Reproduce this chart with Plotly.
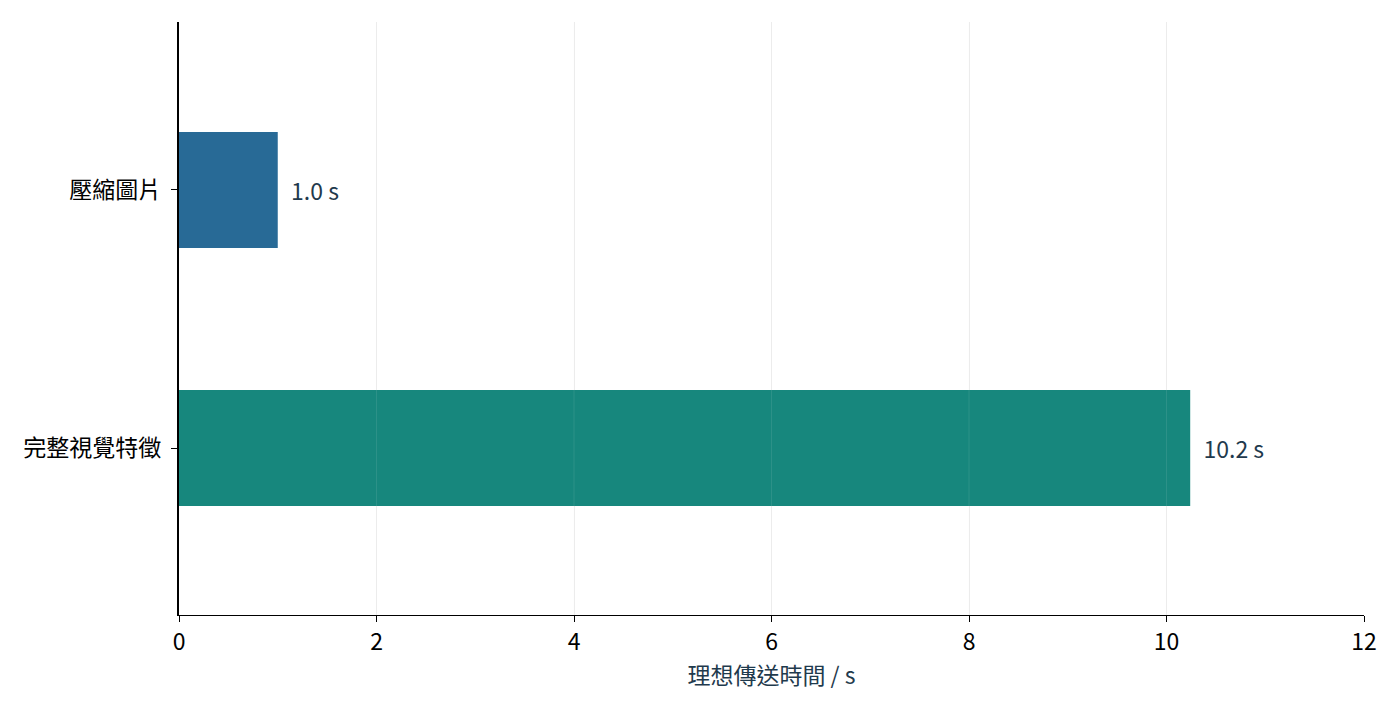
import plotly.graph_objects as go

categories = ["完整視覺特徵", "壓縮圖片"]
values = [10.24, 1.0]
colors = ["#17877d", "#286a96"]
x_ticks = [0, 2, 4, 6, 8, 10, 12]

FONT = "Noto Sans CJK TC"
FS = 23

fig = go.Figure()
fig.add_trace(go.Bar(
    y=categories,
    x=values,
    orientation="h",
    width=0.45,
    marker=dict(color=colors, line=dict(width=0)),
    texttemplate="  %{x:.1f} s",
    textposition="outside",
    textfont=dict(family=FONT, size=FS, color="#1f3a4d"),
    cliponaxis=False,
    hoverinfo="skip",
))

# faint grid overlay drawn above the bars (as in the reference)
for t in x_ticks[1:-1]:
    fig.add_shape(type="line", xref="x", yref="paper", x0=t, x1=t, y0=0, y1=1,
                  line=dict(color="rgba(236,236,236,0.1)", width=1), layer="above")

fig.update_layout(
    width=1400, height=711,
    margin=dict(l=171, r=44, t=14, b=104),
    paper_bgcolor="white",
    plot_bgcolor="white",
    showlegend=False,
    font=dict(family=FONT, size=FS, color="black"),
    xaxis=dict(
        range=[0, 12],
        tickvals=x_ticks,
        showgrid=True, gridcolor="#ececec", gridwidth=1,
        showline=True, linecolor="black", linewidth=1.3,
        ticks="outside", ticklen=6, tickcolor="black",
        tickfont=dict(family=FONT, size=FS, color="black"),
        zeroline=False,
        layer="above traces",
        title=dict(text="理想傳送時間 / s", font=dict(family=FONT, size=FS, color="#1f3a4d"), standoff=10),
    ),
    yaxis=dict(
        range=[-0.647, 1.651],
        showgrid=False,
        showline=True, linecolor="black", linewidth=1.8,
        ticks="outside", ticklen=6, tickcolor="black",
        tickfont=dict(family=FONT, size=FS, color="black"),
        zeroline=False,
        layer="above traces",
        ticksuffix=" ",
    ),
)

fig.write_html("out.html")
